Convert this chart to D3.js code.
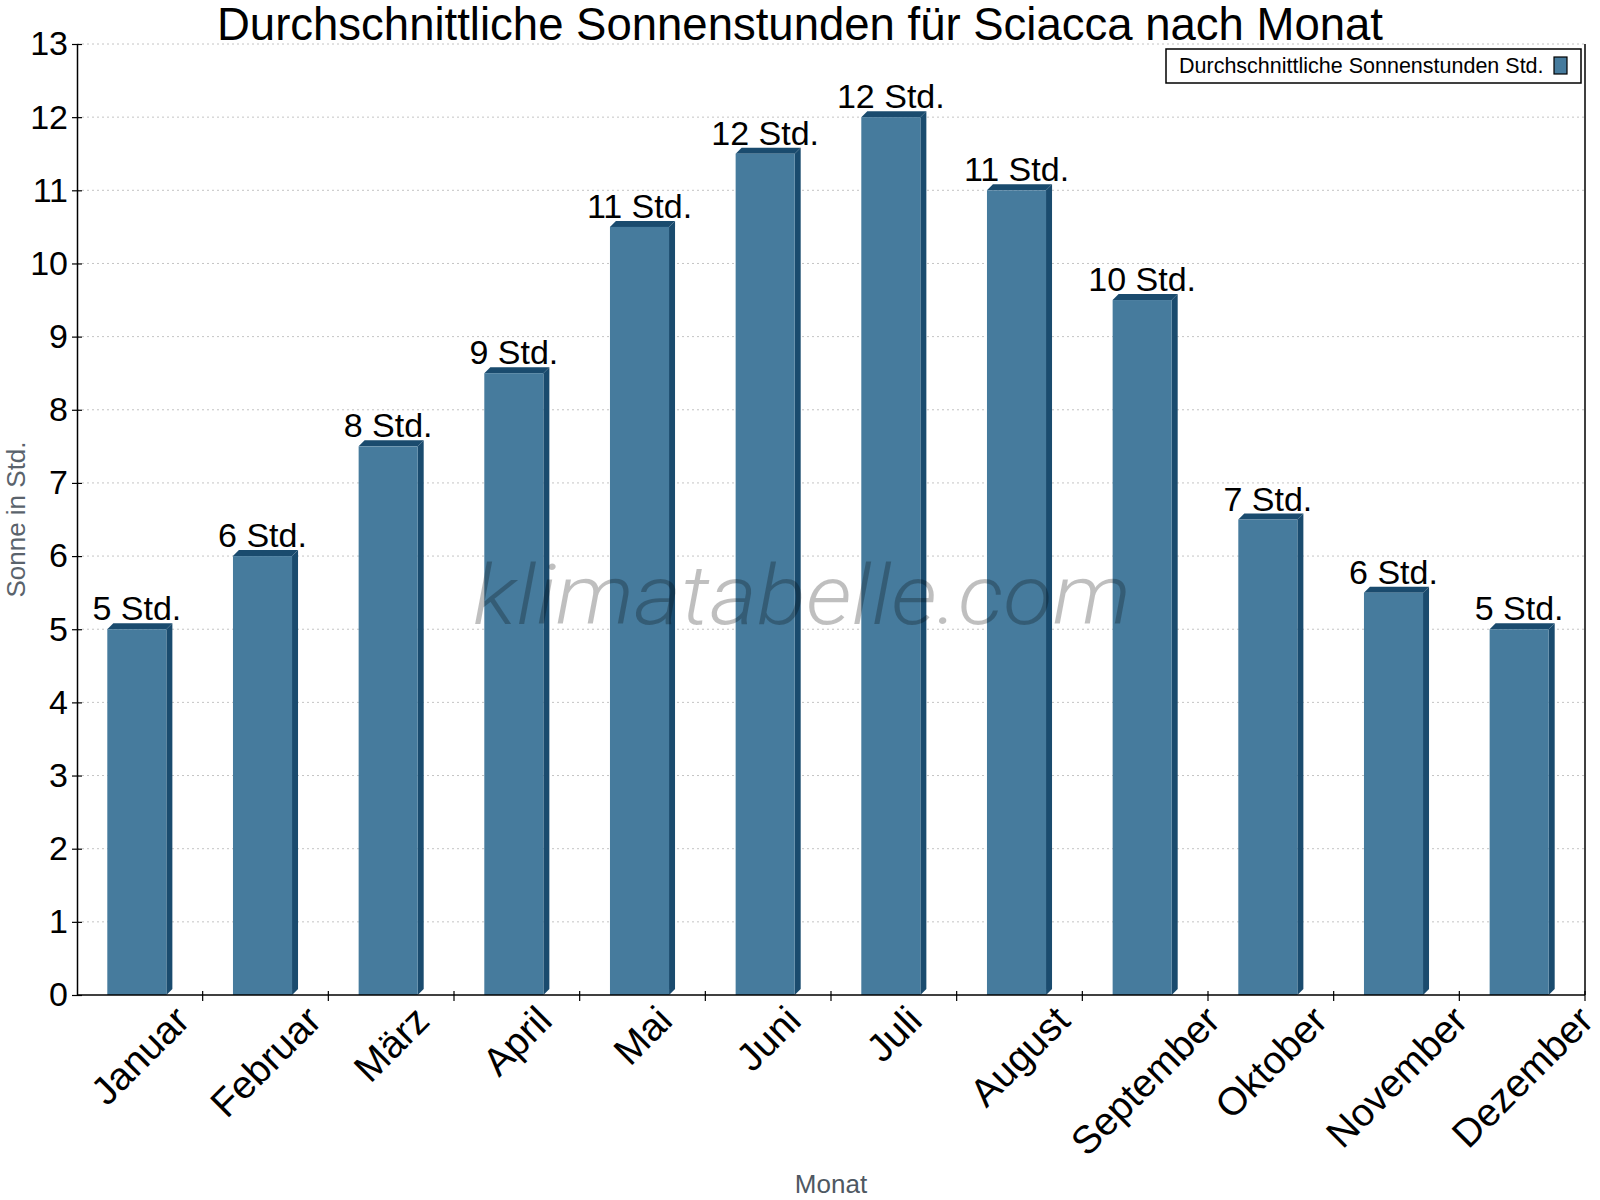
<!DOCTYPE html>
<html>
<head>
<meta charset="utf-8">
<script src="https://cdn.jsdelivr.net/npm/d3@7"></script>
<style>
  body { margin: 0; background: #fff; }
  svg { display: block; font-family: "Liberation Sans", Arial, sans-serif; }
</style>
</head>
<body>
<svg id="drawing_region"></svg>
<script>
// data
var months = ['Januar', 'Februar', 'März', 'April', 'Mai', 'Juni', 'Juli',
              'August', 'September', 'Oktober', 'November', 'Dezember'];
var sun_hours = [5, 6, 7.5, 8.5, 10.5, 11.5, 12, 11, 9.5, 6.5, 5.5, 5];
var y_ticks = [0, 1, 2, 3, 4, 5, 6, 7, 8, 9, 10, 11, 12, 13];

var config = {
    width: 1600,
    height: 1200,
    margin: {top: 44, right: 15, bottom: 205, left: 77}
};

var front_color = '#467b9d';
var dark_color = '#1a4b6e';
var depth = 6;

var svg = d3.select('#drawing_region')
    .attr('width', config.width)
    .attr('height', config.height);

var x0 = config.margin.left;
var x1 = config.width - config.margin.right;
var y0 = config.height - config.margin.bottom;
var y1 = config.margin.top;

var xscale = d3.scaleBand()
    .domain(months)
    .range([x0, x1]);

var yscale = d3.scaleLinear()
    .domain([0, 13])
    .range([y0, y1]);

var data = months.map((m, i) => ({label: m, value: sun_hours[i]}));

// grid lines
svg.append('g')
    .selectAll('line')
    .data(y_ticks.filter(d => d > 0))
    .join('line')
    .attr('x1', x0)
    .attr('x2', x1)
    .attr('y1', d => yscale(d))
    .attr('y2', d => yscale(d))
    .attr('stroke', '#c4c4c4')
    .attr('stroke-width', 1)
    .attr('stroke-dasharray', '2,3');

// bars (front, side, top)
var bw = xscale.bandwidth() * 0.47;
var bar_x = d => xscale(d.label) + xscale.bandwidth() / 2 - (bw + depth) / 2;

var bars = svg.append('g');

bars.selectAll('polygon.side')
    .data(data)
    .join('polygon')
    .attr('class', 'side')
    .attr('fill', dark_color)
    .attr('points', d => {
        let x = bar_x(d) + bw, yt = yscale(d.value), yb = yscale(0);
        return [[x, yt], [x + depth, yt - depth], [x + depth, yb - depth], [x, yb]].join(' ');
    });

bars.selectAll('polygon.top')
    .data(data)
    .join('polygon')
    .attr('class', 'top')
    .attr('fill', dark_color)
    .attr('points', d => {
        let x = bar_x(d), yt = yscale(d.value);
        return [[x, yt], [x + depth, yt - depth], [x + bw + depth, yt - depth], [x + bw, yt]].join(' ');
    });

bars.selectAll('rect')
    .data(data)
    .join('rect')
    .attr('x', d => bar_x(d))
    .attr('y', d => yscale(d.value))
    .attr('width', bw)
    .attr('height', d => yscale(0) - yscale(d.value))
    .attr('fill', front_color);

// value labels
svg.append('g')
    .selectAll('text')
    .data(data)
    .join('text')
    .attr('x', d => bar_x(d) + bw / 2)
    .attr('y', d => yscale(d.value) - 9)
    .attr('text-anchor', 'middle')
    .attr('font-size', '34px')
    .attr('fill', '#000')
    .text(d => Math.round(d.value) + ' Std.');

// axes
var yaxis = d3.axisLeft(yscale)
    .tickValues(y_ticks)
    .tickSizeInner(5)
    .tickSizeOuter(0)
    .tickPadding(4)
    .tickFormat(d3.format('d'));

var yaxis_group = svg.append('g')
    .attr('transform', `translate(${x0}, 0)`)
    .call(yaxis);
yaxis_group.select('.domain').attr('stroke', '#000').attr('stroke-width', 1.5);
yaxis_group.selectAll('.tick line')
    .attr('x1', 5)
    .attr('x2', -5)
    .attr('stroke-width', 1.2);
yaxis_group.selectAll('.tick text')
    .attr('font-size', '34px')
    .attr('font-family', '"Liberation Sans", Arial, sans-serif')
    .attr('fill', '#000');

// x axis line + ticks at band boundaries
var xaxis_group = svg.append('g');
xaxis_group.append('line')
    .attr('x1', x0).attr('x2', x1)
    .attr('y1', y0).attr('y2', y0)
    .attr('stroke', '#000').attr('stroke-width', 1.5);
xaxis_group.selectAll('line.tick')
    .data(months.map((m, i) => i + 1))
    .join('line')
    .attr('class', 'tick')
    .attr('x1', i => x0 + i * xscale.step())
    .attr('x2', i => x0 + i * xscale.step())
    .attr('y1', y0 - 4)
    .attr('y2', y0 + 6)
    .attr('stroke', '#000').attr('stroke-width', 1.2);

// right border
svg.append('line')
    .attr('x1', x1).attr('x2', x1)
    .attr('y1', y1).attr('y2', y0)
    .attr('stroke', '#000').attr('stroke-width', 1.5);

// rotated month labels, bounding box centered under each band
var label_top = 998;
var xlabels = svg.append('g')
    .selectAll('g')
    .data(months)
    .join('g');

xlabels.append('text')
    .attr('text-anchor', 'middle')
    .attr('dy', '0.35em')
    .attr('font-size', '39px')
    .attr('fill', '#000')
    .attr('transform', 'rotate(-45)')
    .text(d => d);

xlabels.attr('transform', function(d) {
    let t = this.querySelector('text').getBoundingClientRect();
    let cx = xscale(d) + xscale.bandwidth() / 2;
    return `translate(${cx}, ${label_top + t.height / 2})`;
});

// axis titles
svg.append('text')
    .attr('x', (x0 + x1) / 2)
    .attr('y', 1193)
    .attr('text-anchor', 'middle')
    .attr('font-size', '26px')
    .attr('fill', '#4f5862')
    .text('Monat');

svg.append('text')
    .attr('transform', `translate(25, ${(y0 + y1) / 2}) rotate(-90)`)
    .attr('text-anchor', 'middle')
    .attr('font-size', '26px')
    .attr('fill', '#5a636c')
    .text('Sonne in Std.');

// title
svg.append('text')
    .attr('x', config.width / 2)
    .attr('y', 40)
    .attr('text-anchor', 'middle')
    .attr('font-size', '45.5px')
    .attr('fill', '#000')
    .text('Durchschnittliche Sonnenstunden für Sciacca nach Monat');

// watermark
svg.append('text')
    .attr('x', 473)
    .attr('y', 624)
    .attr('textLength', 658)
    .attr('lengthAdjust', 'spacingAndGlyphs')
    .attr('font-family', 'Roboto, "Open Sans", sans-serif')
    .attr('font-weight', 300)
    .attr('font-style', 'italic')
    .attr('font-size', '84px')
    .attr('fill', '#000')
    .attr('fill-opacity', 0.25)
    .text('klimatabelle.com');

// legend
var legend = svg.append('g');
legend.append('rect')
    .attr('x', 1166).attr('y', 49)
    .attr('width', 415).attr('height', 34)
    .attr('fill', '#fff')
    .attr('stroke', '#000').attr('stroke-width', 1.5);
legend.append('text')
    .attr('x', 1179).attr('y', 73)
    .attr('font-size', '21.5px')
    .attr('fill', '#000')
    .text('Durchschnittliche Sonnenstunden Std.');
legend.append('rect')
    .attr('x', 1554).attr('y', 57)
    .attr('width', 13).attr('height', 17)
    .attr('fill', front_color)
    .attr('stroke', '#000').attr('stroke-width', 1.2);
</script>
</body>
</html>
